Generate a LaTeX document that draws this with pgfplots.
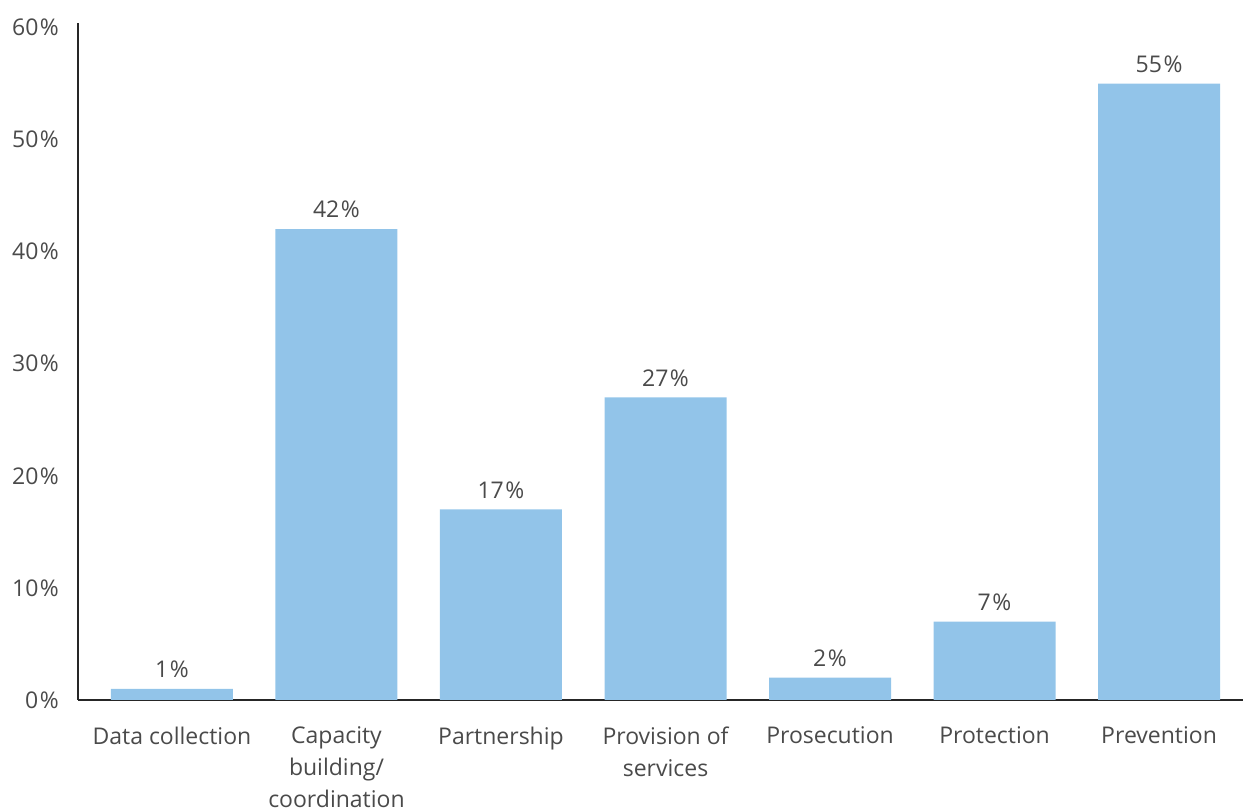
\documentclass[border=0pt]{standalone}
\usepackage{fontspec}
\setmainfont{Open Sans}
\usepackage{pgfplots}
\pgfplotsset{compat=1.18}
\definecolor{barblue}{HTML}{92C4E9}
\definecolor{txt}{HTML}{4A4A4A}
\definecolor{axisc}{HTML}{262626}
\begin{document}
\begin{tikzpicture}
% fixed page frame, 1px = 0.5pt
\path[use as bounding box] (-39pt,-54pt) rectangle (582.5pt,350pt);
\begin{axis}[
    at={(0,0)}, anchor=south west,
    scale only axis, width=582.5pt, height=338.5pt,
    ybar, bar width=61pt,
    xmin=-0.571, xmax=6.51, ymin=0, ymax=60.4,
    axis lines*=left,
    axis line style={axisc, line width=0.75pt},
    major tick length=0pt,
    xtick={0,...,6},
    xticklabels={Data collection, {Capacity\\building/\\coordination}, Partnership, {Provision of\\services}, Prosecution, Protection, Prevention},
    xticklabel style={align=center, font=\fontsize{11.5}{16}\selectfont, color=txt, yshift=-10pt},
    ytick={0,10,...,60},
    yticklabel={\pgfmathprintnumber{\tick}\kern0.8pt\%},
    yticklabel style={font=\fontsize{11.5}{14}\selectfont, color=txt, xshift=-6pt},
    /pgf/number format/assume math mode=true,
    nodes near coords={\pgfmathprintnumber{\pgfplotspointmeta}\kern0.8pt\%},
    nodes near coords style={font=\fontsize{11.5}{14}\selectfont, color=txt, yshift=2pt},
    clip=false,
]
\addplot[fill=barblue, draw=none] coordinates {(0,1) (1,42) (2,17) (3,27) (4,2) (5,7) (6,55)};
\end{axis}
\end{tikzpicture}
\end{document}
